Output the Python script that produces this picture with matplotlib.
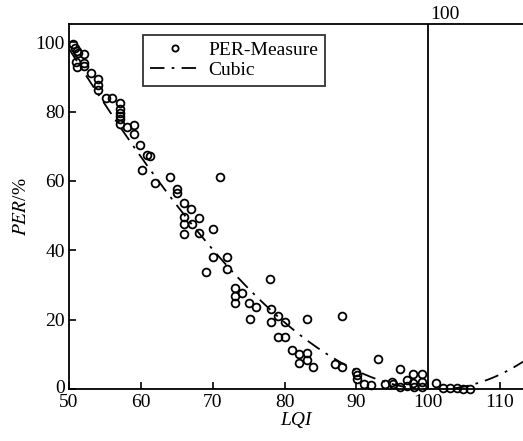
import matplotlib.pyplot as plt
import matplotlib.transforms as mtransforms
import numpy as np

# measured packet error rate vs LQI
lqi = [50.5, 50.8, 51.1, 51.3, 52.1, 51.0, 51.1, 52.1, 52.1, 53.1,
       54.0, 54.0, 54.0, 55.2, 56.0, 57.1, 57.1, 57.1, 57.1, 57.1,
       57.1, 58.1, 59.1, 59.1, 59.9, 60.9, 60.2, 61.3, 62.0, 64.1,
       71.0, 65.0, 65.0, 66.0, 67.0, 66.0, 66.0, 67.1, 68.1, 66.0,
       68.1, 70.1, 70.1, 72.0, 69.1, 72.0, 78.0, 73.1, 74.1, 73.1,
       73.1, 75.1, 76.0, 75.2, 78.1, 79.1, 78.1, 80.1, 83.1, 88.0,
       79.1, 80.1, 81.1, 82.0, 83.1, 83.1, 82.0, 84.0, 87.0, 88.0,
       90.1, 90.1, 91.1, 92.1, 93.0, 94.0, 95.0, 95.1, 96.1, 96.1,
       97.1, 97.1, 97.9, 97.9, 98.0, 99.2, 99.2, 99.2, 101.1, 102.1,
       103.1, 104.0, 104.9, 105.8, 90.0]
per = [99.5, 98.4, 97.5, 97.0, 96.7, 94.4, 92.9, 94.1, 93.2, 91.2,
       89.5, 87.7, 86.3, 84.0, 84.0, 82.5, 80.8, 79.7, 78.8, 77.9,
       76.5, 75.6, 76.2, 73.6, 70.4, 67.5, 63.2, 67.2, 59.5, 61.2,
       61.2, 57.7, 56.6, 53.7, 51.9, 49.6, 47.6, 47.6, 49.4, 44.7,
       45.0, 46.2, 38.1, 38.1, 33.8, 34.6, 31.7, 29.1, 27.7, 26.8,
       24.8, 24.8, 23.7, 20.2, 23.1, 21.1, 19.3, 19.3, 20.2, 21.1,
       15.0, 15.0, 11.3, 10.1, 10.4, 8.4, 7.5, 6.3, 7.2, 6.3,
       4.0, 2.9, 1.4, 1.2, 8.7, 1.4, 2.0, 1.4, 5.8, 0.6,
       2.6, 0.9, 4.3, 1.7, 0.6, 4.3, 2.0, 0.6, 1.7, 0.3,
       0.3, 0.3, 0.0, 0.0, 5.0]

# points
cubic_lqi = [50.0, 55.7, 64.8, 82.2, 85.7, 92.3, 94.3, 100.0, 103.0, 105.4, 111.8, 113.2]
cubic_per = [97.0, 81.4, 53.7, 14.7, 9.5, 2.9, 2.0, 1.2, 0.7, 0.6, 5.5, 7.8]

xticks = [50, 60, 70, 80, 90, 100, 110]
yticks = [0, 20, 40, 60, 80, 100]
marker_lqi = 100


def main() -> None:
    plt.rcParams["font.family"] = ["Liberation Serif", "DejaVu Serif"]
    plt.rcParams["mathtext.fontset"] = "stix"
    fig, ax = plt.subplots(figsize=(5.23, 4.41), dpi=100)
    fig.subplots_adjust(left=0.132, right=1.0, bottom=0.118, top=0.946)

    # cubic through the curve points
    coef = np.polyfit(cubic_lqi, cubic_per, 3)
    xf = np.linspace(50, 113.2, 300)
    yf = np.polyval(coef, xf)

    ax.plot(lqi, per, linestyle="", marker="o", ms=5.6, mfc="none", mec="black",
            mew=1.3, label="PER-Measure", clip_on=False)
    ax.plot(xf, yf, color="black", lw=1.3, dashes=(8, 4, 1.5, 4), label="Cubic")
    ax.axvline(marker_lqi, color="black", lw=1.3)
    ax.text(marker_lqi + 0.3, 105.6, str(marker_lqi), fontsize=14,
            ha="left", va="bottom")

    ax.set_xlim(50, 113.2)
    ax.set_ylim(0, 105.3)
    ax.set_xticks(xticks)
    ax.set_yticks(yticks)
    ax.tick_params(direction="in", length=5, width=1.2, labelsize=14,
                   top=False, right=False)
    ax.tick_params(axis="y", pad=3)
    ax.spines["right"].set_visible(False)
    for s in ("left", "bottom", "top"):
        ax.spines[s].set_linewidth(1.3)

    # lift the zero label a touch so it clears the 50
    zero = ax.get_yticklabels()[0]
    zero.set_transform(zero.get_transform() + mtransforms.ScaledTranslation(0, 2 / 72, fig.dpi_scale_trans))

    ax.set_xlabel("LQI", fontsize=14, style="italic", labelpad=1)
    ax.set_ylabel("$PER$/%", fontsize=14, labelpad=4)

    leg = ax.legend(loc="upper left", bbox_to_anchor=(0.163, 0.970),
                    borderaxespad=0, fontsize=14, frameon=True, fancybox=False,
                    edgecolor="black", handlelength=2.6, borderpad=0.35,
                    labelspacing=0.1, handletextpad=0.4, markerscale=0.8)
    leg.get_frame().set_linewidth(1.3)

    fig.savefig("out.png")
    plt.close(fig)


if __name__ == "__main__":
    main()
